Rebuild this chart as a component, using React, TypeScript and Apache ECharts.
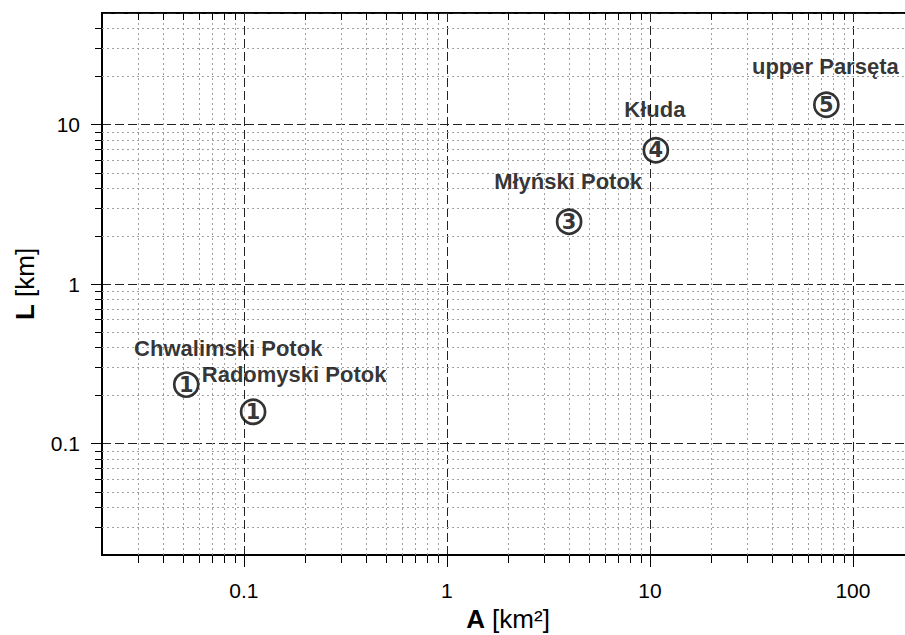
import React, { useEffect, useRef } from "react";
import * as echarts from "echarts";

// ---- data ----
const NAMES = ["Chwalimski Potok", "Radomyski Potok", "Młyński Potok", "Kłuda", "upper Parsęta"];
const AREA_KM2 = [0.052, 0.111, 4.0, 10.7, 74];
const LENGTH_KM = [0.234, 0.158, 2.46, 6.9, 13.3];
const ORDER_NO = ["1", "1", "3", "4", "5"];

// axis ranges and minor (2..9 × 10^k) tick values
const X_RANGE = [0.02, 200];
const Y_RANGE = [0.02, 50];
const X_MINOR = [0.03, 0.04, 0.05, 0.06, 0.07, 0.08, 0.09, 0.2, 0.3, 0.4, 0.5, 0.6, 0.7, 0.8, 0.9, 2, 3, 4, 5, 6, 7, 8, 9, 20, 30, 40, 50, 60, 70, 80, 90];
const Y_MINOR = [0.03, 0.04, 0.05, 0.06, 0.07, 0.08, 0.09, 0.2, 0.3, 0.4, 0.5, 0.6, 0.7, 0.8, 0.9, 2, 3, 4, 5, 6, 7, 8, 9, 20, 30, 40];

// label placement (layout only)
const LABEL_OFFSETS = [[42, -36], [41, -37], [-1, -40], [-1, -41], [-1, -38]];

const FONT = "'Liberation Sans', Arial, sans-serif";

const px = (v: number) => Math.round(v) + 0.5;

export default function App() {
  const ref = useRef<HTMLDivElement>(null);
  useEffect(() => {
    document.body.style.margin = "0";
    if (!ref.current) return;
    const chart = echarts.init(ref.current, null, { renderer: "svg" });
    const fmt = (v: number) => String(Number(v.toPrecision(6)));
    const option: any = {
      animation: false,
      backgroundColor: "#fff",
      grid: {
        left: 102, top: 13, bottom: 80, width: 812,
        outerBoundsMode: "none", containLabel: false,
        show: true, borderColor: "#000", borderWidth: 2, backgroundColor: "transparent",
      },
      xAxis: {
        type: "log",
        logBase: 10,
        min: X_RANGE[0],
        max: X_RANGE[1],
        name: "{b|A} [km²]",
        nameLocation: "middle",
        nameGap: 45,
        nameTextStyle: {
          fontFamily: FONT, fontSize: 26, color: "#000",
          rich: { b: { fontFamily: FONT, fontSize: 26, fontWeight: "bold", color: "#000" } },
        },
        axisLine: { show: true, lineStyle: { color: "#000", width: 2 } },
        axisTick: { show: true, length: 12, lineStyle: { color: "#000", width: 1 } },
        axisLabel: { fontFamily: FONT, fontSize: 21, color: "#000", margin: 25, showMinLabel: false, showMaxLabel: false, formatter: fmt },
        splitLine: { show: true, lineStyle: { color: "#222", width: 1, type: [9, 4] } },
        minorTick: { show: false },
      },
      yAxis: {
        type: "log",
        logBase: 10,
        min: Y_RANGE[0],
        max: Y_RANGE[1],
        name: "{b|L} [km]",
        nameLocation: "middle",
        nameGap: 64,
        nameTextStyle: {
          fontFamily: FONT, fontSize: 26, color: "#000",
          rich: { b: { fontFamily: FONT, fontSize: 26, fontWeight: "bold", color: "#000" } },
        },
        axisLine: { show: true, lineStyle: { color: "#000", width: 2 } },
        axisTick: { show: true, length: 11, lineStyle: { color: "#000", width: 1 } },
        axisLabel: { fontFamily: FONT, fontSize: 21, color: "#000", margin: 22, showMinLabel: false, showMaxLabel: false, formatter: fmt },
        splitLine: { show: true, lineStyle: { color: "#222", width: 1, type: [9, 4] } },
      },
      series: [
        {
          type: "custom",
          name: "minorX",
          silent: true,
          z: 1,
          data: X_MINOR.map((v) => [v, Y_RANGE[0]]),
          encode: { x: 0, y: 1 },
          renderItem: (params: any, api: any) => {
            const x = api.value(0);
            const top = api.coord([x, Y_RANGE[1]]);
            const bot = api.coord([x, Y_RANGE[0]]);
            const xx = px(top[0]);
            return {
              type: "group",
              children: [
                { type: "line", shape: { x1: xx, y1: top[1], x2: xx, y2: bot[1] }, style: { stroke: "#a0a0a0", lineWidth: 1, lineDash: [2, 3] } },
                { type: "line", shape: { x1: xx, y1: bot[1], x2: xx, y2: bot[1] + 8 }, style: { stroke: "#000", lineWidth: 1 } },
                { type: "line", shape: { x1: xx, y1: top[1], x2: xx, y2: top[1] + 7 }, style: { stroke: "#000", lineWidth: 1 } },
              ],
            };
          },
        },
        {
          type: "custom",
          name: "minorY",
          silent: true,
          z: 1,
          data: Y_MINOR.map((v) => [X_RANGE[0], v]),
          encode: { x: 0, y: 1 },
          renderItem: (params: any, api: any) => {
            const y = api.value(1);
            const l = api.coord([X_RANGE[0], y]);
            const r = api.coord([X_RANGE[1], y]);
            const yy = px(l[1]);
            return {
              type: "group",
              children: [
                { type: "line", shape: { x1: l[0], y1: yy, x2: r[0], y2: yy }, style: { stroke: "#a0a0a0", lineWidth: 1, lineDash: [2, 3] } },
                { type: "line", shape: { x1: l[0] - 7, y1: yy, x2: l[0], y2: yy }, style: { stroke: "#000", lineWidth: 1 } },
              ],
            };
          },
        },
        {
          type: "scatter",
          name: "labels",
          silent: true,
          z: 4,
          symbolSize: 1,
          itemStyle: { color: "transparent" },
          data: NAMES.map((n, i) => ({
            value: [AREA_KM2[i], LENGTH_KM[i]],
            label: { offset: LABEL_OFFSETS[i] },
          })),
          label: {
            show: true,
            position: "inside",
            formatter: (p: any) => NAMES[p.dataIndex],
            fontFamily: FONT,
            fontSize: 22,
            fontWeight: "bold",
            color: "#000",
          },
        },
        {
          type: "scatter",
          name: "streams",
          z: 5,
          symbol: "circle",
          symbolSize: 24,
          itemStyle: { color: "#fff", borderColor: "#000", borderWidth: 2.7 },
          data: AREA_KM2.map((a, i) => [a, LENGTH_KM[i]]),
          label: {
            show: true,
            position: "inside",
            formatter: (p: any) => ORDER_NO[p.dataIndex],
            fontFamily: "'DejaVu Sans', sans-serif",
            fontSize: 21,
            fontWeight: "bold",
            color: "#000",
          },
        },
      ],
    };
    chart.setOption(option);
    return () => chart.dispose();
  }, []);
  return <div ref={ref} style={{ position: "absolute", left: 0, top: 0, width: 905, height: 635 }} />;
}
